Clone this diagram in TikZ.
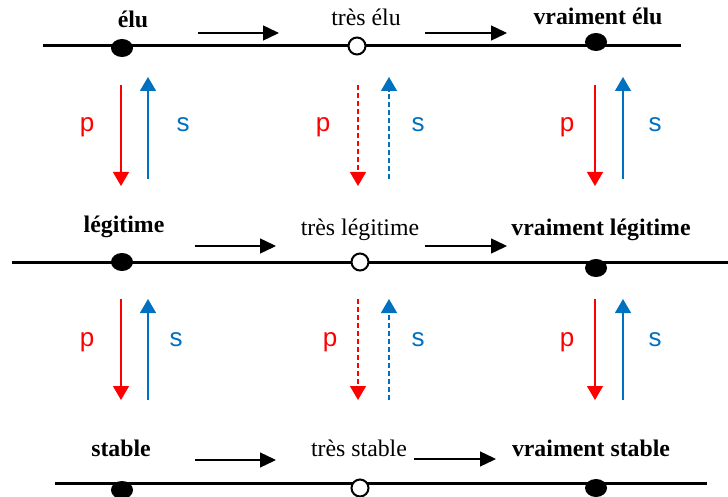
\documentclass[tikz,border=0pt]{standalone}
\usepackage{fontspec}
\setmainfont{Liberation Serif}
\newfontfamily\arialfont{Liberation Sans}
\usepackage{xcolor}
\usetikzlibrary{arrows.meta,positioning,shapes.geometric}

\definecolor{pred}{RGB}{255,0,0}
\definecolor{sblue}{RGB}{0,112,192}

\begin{document}
\begin{tikzpicture}[
  x=1pt, y=-1pt,
  axis/.style={line width=3pt},
  fulldot/.style={ellipse, fill=black, minimum width=22pt, minimum height=18pt, inner sep=0pt},
  opendot/.style={circle, draw, fill=white, line width=2pt, minimum size=17pt, inner sep=0pt},
  word/.style={anchor=base, inner sep=0pt, font=\fontsize{23.8}{28}\selectfont},
  boldword/.style={anchor=base, inner sep=0pt, font=\fontsize{23.8}{28}\selectfont\bfseries},
  letter/.style={anchor=base, inner sep=0pt, font=\arialfont\fontsize{26}{30}\selectfont},
  move/.style={-{Triangle[length=16pt, width=15pt]}, line width=1.4pt},
  parrow/.style={pred, line width=1.2pt, -{Triangle[length=14pt, width=16pt]}},
  sarrow/.style={sblue, line width=1.2pt, -{Triangle[length=14pt, width=16pt]}},
  weak/.style={dash pattern=on 5pt off 3pt}
]
\useasboundingbox (0,0) rectangle (728,497);

% row 1 : elu
\coordinate (line1w) at (43,46);
\coordinate (line1e) at (681,46);
\draw[axis] (line1w) -- (line1e);
\node[fulldot] (elu) at (122,48) {};
\node[opendot] (treselu) at (357,46) {};
\node[fulldot] (vraielu) at (596,42) {};
\node[boldword] (elutxt) at (133,28) {élu};
\node[word] (treselutxt) at (366,26) {très élu};
\node[boldword] (vraielutxt) at (598,25) {vraiment élu};
\coordinate (m1a) at (198,33);
\coordinate (m1b) at (279,33);
\coordinate (m2a) at (425,33);
\coordinate (m2b) at (507,33);
\draw[move] (m1a) -- (m1b);
\draw[move] (m2a) -- (m2b);

% row 2 : legitime
\coordinate (line2w) at (12,262);
\coordinate (line2e) at (728,262);
\draw[axis] (line2w) -- (line2e);
\node[fulldot] (leg) at (122,262) {};
\node[opendot] (tresleg) at (360,262) {};
\node[fulldot] (vraileg) at (596,268) {};
\node[boldword] (legtxt) at (124,233) {légitime};
\node[word] (treslegtxt) at (360,235) {très légitime};
\node[boldword] (vrailegtxt) at (601,235) {vraiment légitime};
\coordinate (m3a) at (195,246);
\coordinate (m3b) at (276,246);
\coordinate (m4a) at (425,246);
\coordinate (m4b) at (507,246);
\draw[move] (m3a) -- (m3b);
\draw[move] (m4a) -- (m4b);

% row 3 : stable
\coordinate (line3w) at (55,483);
\coordinate (line3e) at (707,483);
\draw[axis] (line3w) -- (line3e);
\node[fulldot] (stab) at (122,490) {};
\node[opendot] (tresstab) at (360,488) {};
\node[fulldot] (vraistab) at (596,488) {};
\node[boldword] (stabtxt) at (121,456) {stable};
\node[word] (tresstabtxt) at (359,456) {très stable};
\node[boldword] (vraistabtxt) at (591,456) {vraiment stable};
\coordinate (m5a) at (195,460);
\coordinate (m5b) at (276,460);
\coordinate (m6a) at (414,459);
\coordinate (m6b) at (496,459);
\draw[move] (m5a) -- (m5b);
\draw[move] (m6a) -- (m6b);

% p / s between row 1 and row 2
\coordinate (p1a) at (121,85);  \coordinate (p1b) at (121,186);
\coordinate (s1a) at (148,179); \coordinate (s1b) at (148,77);
\coordinate (p2a) at (358,85);  \coordinate (p2b) at (358,186);
\coordinate (s2a) at (389,179); \coordinate (s2b) at (389,77);
\coordinate (p3a) at (595,85);  \coordinate (p3b) at (595,186);
\coordinate (s3a) at (623,179); \coordinate (s3b) at (623,77);
\draw[parrow] (p1a) -- (p1b);
\draw[sarrow] (s1a) -- (s1b);
\draw[parrow, weak] (p2a) -- (p2b);
\draw[sarrow, weak] (s2a) -- (s2b);
\draw[parrow] (p3a) -- (p3b);
\draw[sarrow] (s3a) -- (s3b);
\node[letter, pred] (p1) at (87,132) {p};
\node[letter, sblue] (s1) at (183,132) {s};
\node[letter, pred] (p2) at (323,132) {p};
\node[letter, sblue] (s2) at (418,132) {s};
\node[letter, pred] (p3) at (567,132) {p};
\node[letter, sblue] (s3) at (655,132) {s};

% p / s between row 2 and row 3
\coordinate (p4a) at (121,299); \coordinate (p4b) at (121,400);
\coordinate (s4a) at (148,400); \coordinate (s4b) at (148,299);
\coordinate (p5a) at (358,299); \coordinate (p5b) at (358,400);
\coordinate (s5a) at (389,400); \coordinate (s5b) at (389,299);
\coordinate (p6a) at (595,299); \coordinate (p6b) at (595,400);
\coordinate (s6a) at (623,400); \coordinate (s6b) at (623,299);
\draw[parrow] (p4a) -- (p4b);
\draw[sarrow] (s4a) -- (s4b);
\draw[parrow, weak] (p5a) -- (p5b);
\draw[sarrow, weak] (s5a) -- (s5b);
\draw[parrow] (p6a) -- (p6b);
\draw[sarrow] (s6a) -- (s6b);
\node[letter, pred] (p4) at (87,346) {p};
\node[letter, sblue] (s4) at (176,346) {s};
\node[letter, pred] (p5) at (330,346) {p};
\node[letter, sblue] (s5) at (418,346) {s};
\node[letter, pred] (p6) at (567,346) {p};
\node[letter, sblue] (s6) at (655,346) {s};

\end{tikzpicture}
\end{document}
